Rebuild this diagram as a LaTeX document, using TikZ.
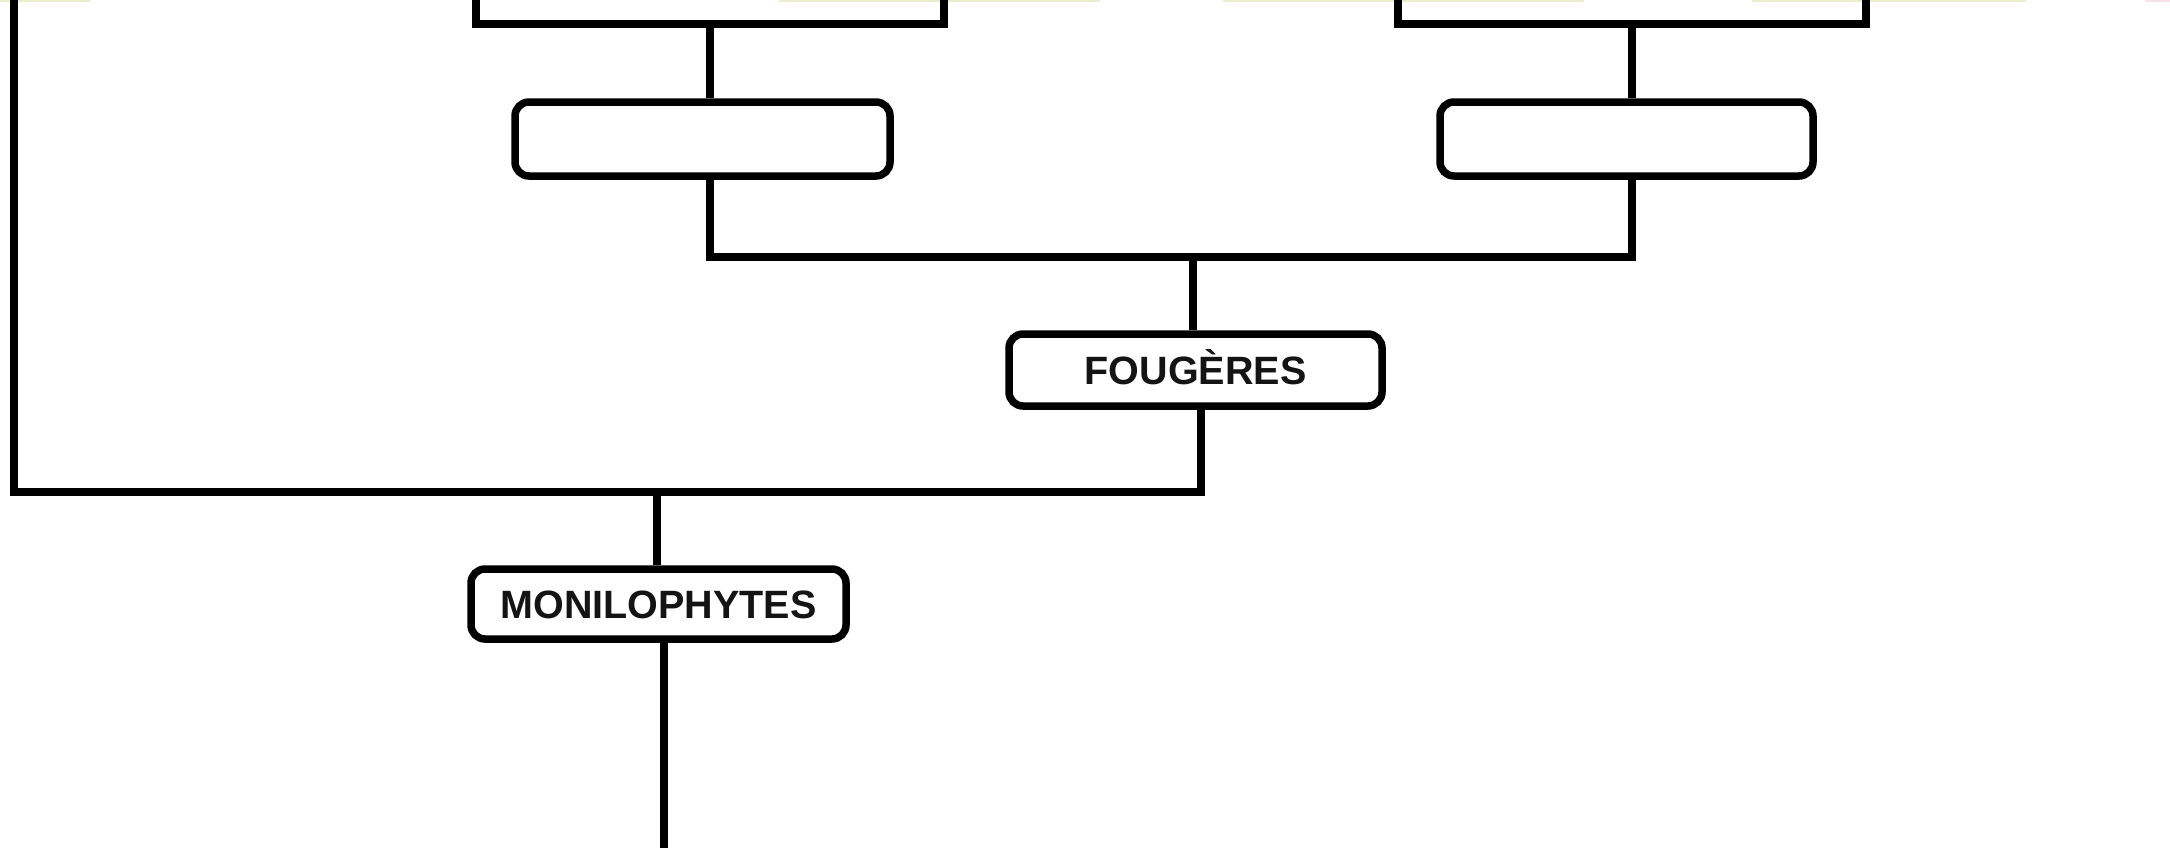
\documentclass[tikz,border=0pt]{standalone}
\usepackage{fontspec}
\setmainfont{Liberation Sans}
\definecolor{faintyel}{RGB}{236,238,205}
\definecolor{faintpink}{RGB}{245,225,230}
\begin{document}
\begin{tikzpicture}[x=1pt,y=-1pt,
  lnk/.style={line width=7.5pt,draw=black,line join=miter},
  topbox/.style={draw=black,line width=7.5pt,inner sep=0pt,minimum width=468pt,minimum height=100pt},
  cladebox/.style={draw=black,line width=7.5pt,rounded corners=14pt,inner sep=0pt,
     minimum height=72pt,text height=28.3pt,text depth=0pt,
     font=\fontsize{39.5}{40}\selectfont\bfseries,text=black!92}]
\fill[white] (0,0) rectangle (2170,847);
\useasboundingbox (0,0) rectangle (2170,847);
\clip (0,0) rectangle (2170,847);
% faint remnants at the top edge
\fill[faintyel] (0,0) rectangle (91,1.5);
\fill[faintyel] (779,0) rectangle (1100,1.5);
\fill[faintyel] (1223,0) rectangle (1584,1.5);
\fill[faintyel] (1752,0) rectangle (2026,1.5);
\fill[faintpink] (2145,0) rectangle (2170,1.5);
% nodes
\node[topbox] (ta) at (710,-26) {};
\node[topbox] (tb) at (1632,-26) {};
\node[cladebox,minimum width=375pt,minimum height=74pt] (ra) at (702.5,139) {};
\node[cladebox,minimum width=373pt,minimum height=74pt] (rb) at (1626.5,139) {};
\node[cladebox,minimum width=373pt] (fou) at (1195.5,370) {FOUGÈRES};
\node[cladebox,minimum width=375pt,minimum height=70pt] (mon) at (658.5,604) {MONILOPHYTES};
% junctions and free ends
\coordinate (j1) at (1193,257);
\coordinate (j2) at (657,492);
\coordinate (lt) at (14,-20);
\coordinate (bot) at (664,870);
% connectors
\draw[lnk] (ta.south) -- (ra.north -| ta.south);
\draw[lnk] (tb.south) -- (rb.north -| tb.south);
\draw[lnk] (ra.south -| ta.south) |- (j1) -| (rb.south -| tb.south);
\draw[lnk] (j1) -- (j1 |- fou.north);
\draw[lnk] ([xshift=5.5pt]fou.south) |- (j2) -| (lt);
\draw[lnk] (j2) -- (j2 |- mon.north);
\draw[lnk] ([xshift=5.5pt]mon.south) -- (bot);
\end{tikzpicture}
\end{document}
